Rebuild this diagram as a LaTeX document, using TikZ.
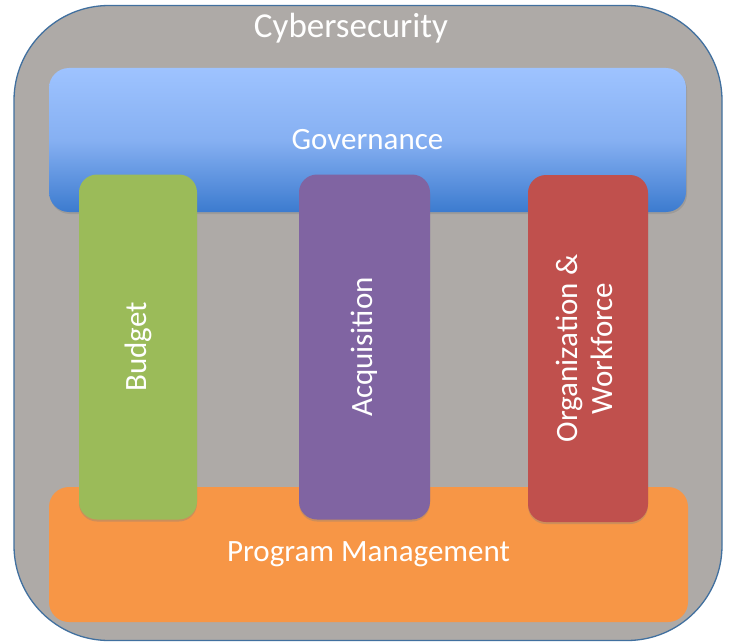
\documentclass[tikz,border=0pt]{standalone}
\usepackage{fontspec}
\setmainfont{Carlito}
\usetikzlibrary{shadows}
\definecolor{framegray}{HTML}{AEAAA7}
\definecolor{frameblue}{HTML}{41709F}
\definecolor{govtop}{HTML}{9EC3FF}
\definecolor{govmid}{HTML}{86B0F2}
\definecolor{govbot}{HTML}{3C7BCF}
\definecolor{budgetgreen}{HTML}{9BBB59}
\definecolor{acqpurple}{HTML}{8064A2}
\definecolor{orgred}{HTML}{C0504D}
\definecolor{pmorange}{HTML}{F79646}
\tikzset{
  band/.style={rounded corners=20pt, inner sep=0pt, text=white,
    font=\fontsize{31}{36}\selectfont},
  pillar/.style={rounded corners=18pt, inner sep=0pt, text=white,
    font=\fontsize{31}{35}\selectfont, minimum height=345pt,
    drop shadow={shadow xshift=0pt, shadow yshift=-2pt, opacity=0.35}},
}
\begin{document}
\begin{tikzpicture}[x=1pt,y=-1pt]
  \useasboundingbox (0,0) rectangle (729,642);
  % outer frame
  \node[draw=frameblue, line width=1.3pt, fill=framegray, rounded corners=95pt,
        minimum width=708pt, minimum height=635pt, inner sep=0pt]
        (frame) at (368,323) {};
  \node[text=white, font=\fontsize{35}{40}\selectfont] (title) at (351,28) {Cybersecurity};
  % horizontal bands
  \node[band, minimum width=637pt, minimum height=144pt,
        top color=govtop, bottom color=govbot, middle color=govmid,
        drop shadow={shadow xshift=1pt, shadow yshift=-2pt, opacity=0.35}]
        (gov) at (367.5,140) {Governance};
  \node[band, fill=pmorange, minimum width=639pt, minimum height=135pt]
        (pm) at (368.5,554.5) {Program Management};
  % vertical pillars
  \node[pillar, fill=budgetgreen, minimum width=118pt] (budget) at (138,347)
        {\rotatebox{90}{Budget}};
  \node[pillar, fill=acqpurple, minimum width=131pt] (acq) at (364.5,347)
        {\rotatebox{90}{Acquisition}};
  \node[pillar, fill=orgred, minimum width=120pt, minimum height=347pt] (org) at (588,348.5)
        {\rotatebox{90}{\begin{tabular}{@{}c@{}}Organization \&\\Workforce\end{tabular}}};
\end{tikzpicture}
\end{document}
